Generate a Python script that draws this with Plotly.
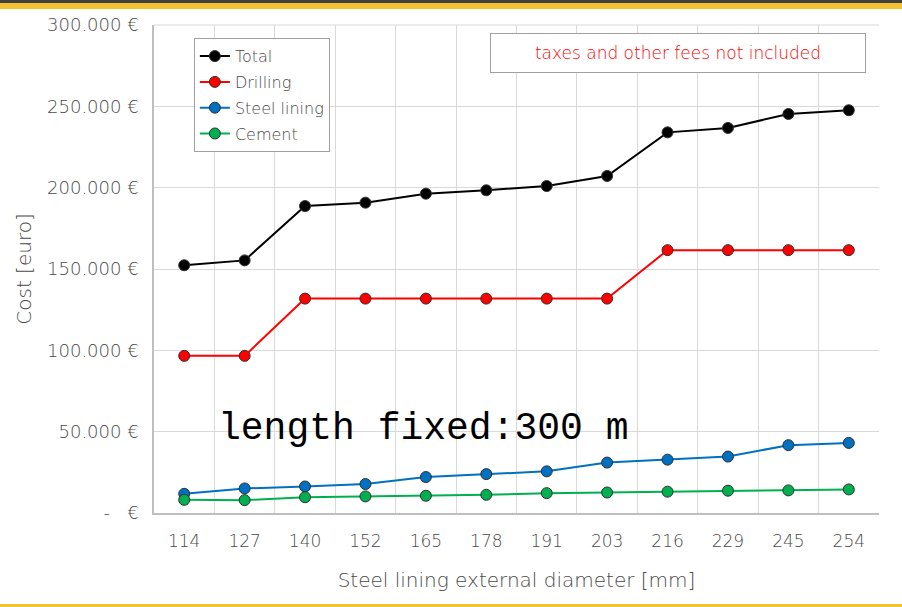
import plotly.graph_objects as go

diameters = ["114", "127", "140", "152", "165", "178", "191", "203", "216", "229", "245", "254"]
total = [152300, 155300, 188700, 190800, 196300, 198400, 201000, 207200, 234000, 236700, 245300, 247600]
drilling = [96600, 96600, 131800, 131800, 131800, 131800, 131800, 131800, 161600, 161600, 161600, 161600]
steel_lining = [11800, 15100, 16300, 17800, 22100, 23900, 25600, 31000, 32800, 34700, 41700, 43100]
cement = [8100, 7900, 9700, 10200, 10600, 11200, 12200, 12600, 13100, 13700, 13900, 14500]

y_tickvals = [0, 50000, 100000, 150000, 200000, 250000, 300000]
y_ticktext = ["-   €", "50.000 €", "100.000 €", "150.000 €", "200.000 €", "250.000 €", "300.000 €"]

series = [
    ("Total", total, "#000000"),
    ("Drilling", drilling, "#ff0000"),
    ("Steel lining", steel_lining, "#0070c0"),
    ("Cement", cement, "#00b050"),
]

FONT = "'DejaVu Sans', sans-serif"
GREY = "#4a4a4a"

fig = go.Figure()
for name, vals, col in series:
    fig.add_trace(go.Scatter(
        x=diameters, y=vals, name=name, legendgroup=name, mode="lines+markers",
        line=dict(color=col, width=2),
        marker=dict(color=col, size=11, line=dict(color="#303030", width=1)),
    ))

fig.update_layout(
    width=902, height=607,
    margin=dict(l=154, r=23, t=25, b=94),
    paper_bgcolor="white", plot_bgcolor="white",
    font=dict(family=FONT, color=GREY, size=16, weight=300),
    showlegend=True,
    legend=dict(
        x=0.055, y=0.973, xanchor="left", yanchor="top",
        bgcolor="white", bordercolor="#a0a0a0", borderwidth=1,
        font=dict(family=FONT, size=16, color=GREY, weight=300),
        itemwidth=30, tracegroupgap=2,
    ),
    xaxis=dict(
        type="category", tickson="boundaries",
        showgrid=True, gridcolor="#d9d9d9", gridwidth=1,
        showline=True, linecolor="#bfbfbf", linewidth=1.5, mirror=False,
        ticks="", ticklabelstandoff=12,
        tickfont=dict(size=17, color=GREY, family=FONT, weight=300),
        title=dict(text="Steel lining external diameter [mm]",
                   font=dict(size=20, color=GREY, family=FONT, weight=300), standoff=23),
        range=[-0.5, 11.5],
    ),
    yaxis=dict(
        range=[0, 300000],
        tickmode="array", tickvals=y_tickvals, ticktext=y_ticktext,
        showgrid=True, gridcolor="#d9d9d9", gridwidth=1,
        showline=True, linecolor="#bfbfbf", linewidth=1.5,
        zeroline=False, ticks="", ticklen=0, ticklabelstandoff=10,
        tickfont=dict(size=18, color=GREY, family=FONT, weight=300),
        title=dict(text="Cost [euro]", font=dict(size=20, color=GREY, family=FONT, weight=300), standoff=10),
    ),
    annotations=[
        dict(
            text="taxes and other fees not included",
            xref="paper", yref="paper", x=0.723, y=0.9416, xanchor="center", yanchor="middle",
            showarrow=False, font=dict(family=FONT, size=17, color="#ff0000", weight=300),
            bordercolor="#a0a0a0", borderwidth=1, borderpad=9, bgcolor="white",
            width=356,
        ),
        dict(
            text="length fixed:300 m",
            xref="paper", yref="paper", x=0.086, y=0.174, xanchor="left", yanchor="middle",
            showarrow=False, font=dict(family="'Liberation Mono', 'Courier New', monospace", size=38, color="#000000"),
        ),
    ],
    shapes=[
        dict(type="rect", xref="paper", yref="paper", x0=-0.3, x1=1.1, y0=(513 - 3) / 488, y1=(513 + 2) / 488,
             fillcolor="#404040", line=dict(width=0), layer="above"),
        dict(type="rect", xref="paper", yref="paper", x0=-0.3, x1=1.1, y0=(513 - 9) / 488, y1=(513 - 3) / 488,
             fillcolor="#f2c12e", line=dict(width=0), layer="above"),
        dict(type="rect", xref="paper", yref="paper", x0=-0.3, x1=1.1, y0=(513 - 609) / 488, y1=(513 - 604) / 488,
             fillcolor="#f2c12e", line=dict(width=0), layer="above"),
        dict(type="line", xref="paper", yref="paper", x0=0, x1=1, y0=1, y1=1,
             line=dict(color="#d9d9d9", width=1), layer="below"),
    ],
)

fig.write_html("out.html", config={"displayModeBar": False},
               post_script="document.body.style.margin='0';document.body.style.padding='0';")
